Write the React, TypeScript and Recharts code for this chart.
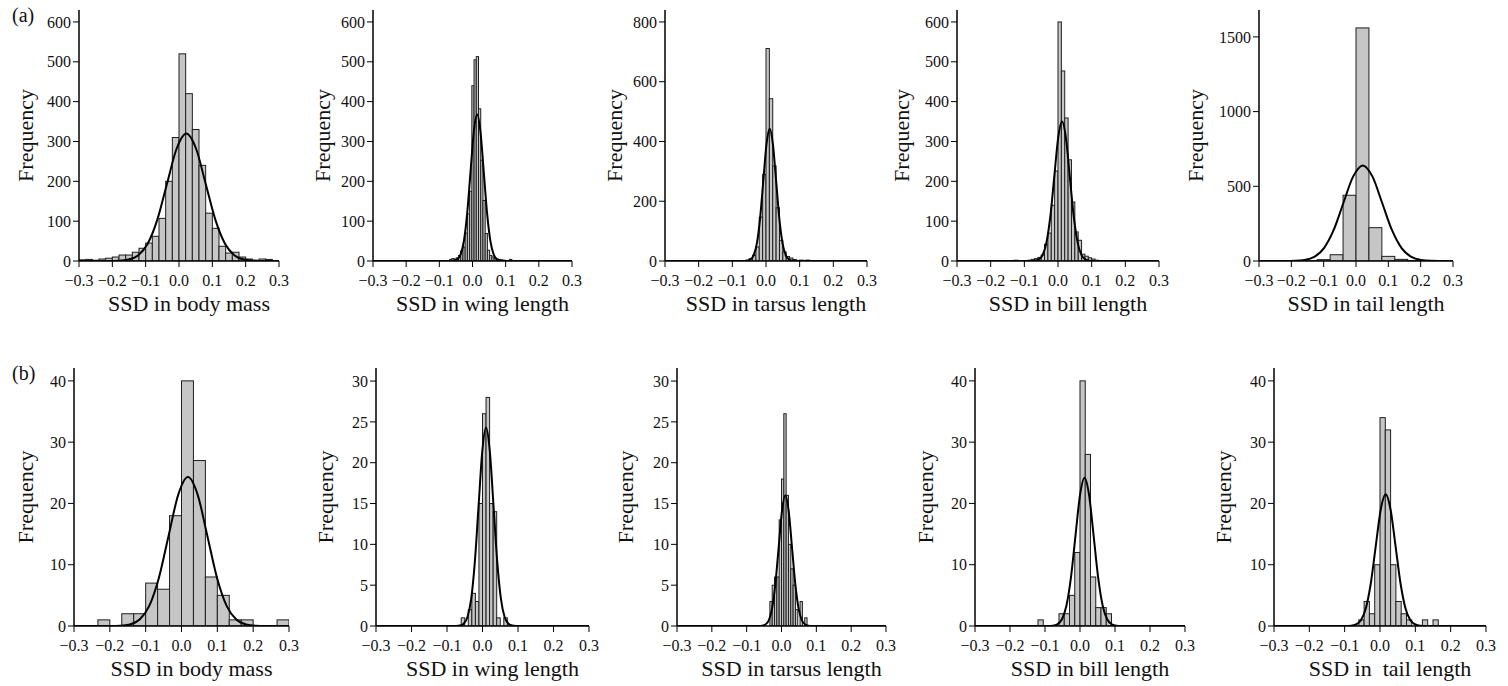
import React from 'react';
import { ComposedChart, Bar, Line, XAxis, YAxis } from 'recharts';

const FONT = "'Liberation Serif', 'Times New Roman', Times, serif";

// ---------- shared axis values ----------
const xTicks = [-0.3, -0.2, -0.1, 0, 0.1, 0.2, 0.3];
const yTicks600 = [0, 100, 200, 300, 400, 500, 600];
const yTicks800 = [0, 200, 400, 600, 800];
const yTicks1500 = [0, 500, 1000, 1500];
const yTicks40 = [0, 10, 20, 30, 40];
const yTicks30 = [0, 5, 10, 15, 20, 25, 30];

// ---------- (a) histograms: first bin edge, bin width, counts ----------
const bodyMassA_start = -0.3;
const bodyMassA_width = 0.02;
const bodyMassA_counts = [3, 4, 2, 5, 7, 10, 15, 15, 22, 32, 45, 62, 107, 200, 310, 520, 420, 330, 240, 120, 82, 37, 20, 22, 10, 5, 2, 5, 4, 1];

const wingA_start = -0.069;
const wingA_width = 0.0067;
const wingA_counts = [4, 6, 5, 8, 14, 25, 35, 70, 118, 175, 440, 505, 513, 382, 253, 152, 69, 27, 14, 10, 7, 5, 4, 3, 2, 0, 0, 4];

const tarsusA_start = -0.06;
const tarsusA_width = 0.01;
const tarsusA_counts = [3, 8, 19, 47, 147, 290, 711, 543, 318, 178, 69, 30, 15, 10, 5, 2, 3, 2, 3];

const billA_start = -0.13;
const billA_width = 0.01;
const billA_counts = [2, 0, 0, 1, 2, 4, 6, 9, 15, 42, 70, 140, 226, 600, 477, 359, 254, 148, 73, 52, 17, 12, 8, 5, 2];

const tailA_start = -0.16;
const tailA_width = 0.04;
const tailA_counts = [2, 9, 42, 440, 1560, 223, 31, 11, 3];

// ---------- (b) histograms ----------
const bodyMassB_start = -0.3;
const bodyMassB_width = 0.033333;
const bodyMassB_counts = [0, 0, 1, 0, 2, 2, 7, 6, 18, 40, 27, 8, 5, 1, 1, 0, 0, 1];

const wingB_start = -0.06;
const wingB_width = 0.01;
const wingB_counts = [1, 0, 2, 4, 3, 15, 26, 28, 15, 14, 1, 0, 1];

const tarsusB_start = -0.033333;
const tarsusB_width = 0.0066667;
const tarsusB_counts = [3, 5, 6, 6, 13, 18, 26, 16, 10, 7, 5, 2, 0, 3, 0, 1];

const billB_start = -0.12;
const billB_width = 0.015;
const billB_counts = [1, 0, 0, 0, 2, 2, 5, 12, 40, 28, 8, 3, 3, 2];

const tailB_start = -0.06;
const tailB_width = 0.015;
const tailB_counts = [1, 4, 2, 10, 34, 32, 10, 4, 2, 1, 0, 0, 1, 0, 1];

// ---------- fitted curves (x, frequency) ----------
const bodyMassA_curveX = [-0.3, -0.21, -0.181, -0.152, -0.123, -0.094, -0.065, -0.036, -0.007, 0.022, 0.051, 0.08, 0.109, 0.138, 0.167, 0.196, 0.225, 0.254, 0.3];
const bodyMassA_curveY = [0, 0.1, 0.7, 3.6, 14.0, 43.3, 103.9, 194.1, 282.4, 320, 282.4, 194.1, 103.9, 43.3, 14.0, 3.6, 0.7, 0.1, 0];

const wingA_curveX = [-0.3, -0.066, -0.056, -0.046, -0.036, -0.026, -0.016, -0.006, 0.004, 0.014, 0.024, 0.034, 0.044, 0.054, 0.064, 0.074, 0.084, 0.094, 0.3];
const wingA_curveY = [0, 0.1, 0.8, 4.1, 16.2, 49.8, 119.5, 223.2, 324.8, 368, 324.8, 223.2, 119.5, 49.8, 16.2, 4.1, 0.8, 0.1, 0];

const tarsusA_curveX = [-0.3, -0.065, -0.0555, -0.046, -0.0365, -0.027, -0.0175, -0.008, 0.0015, 0.011, 0.0205, 0.03, 0.0395, 0.049, 0.0585, 0.068, 0.0775, 0.087, 0.3];
const tarsusA_curveY = [0, 0.1, 1.0, 4.9, 19.4, 59.9, 143.8, 268.7, 390.9, 443, 390.9, 268.7, 143.8, 59.9, 19.4, 4.9, 1.0, 0.1, 0];

const billA_curveX = [-0.3, -0.08, -0.0685, -0.057, -0.0455, -0.034, -0.0225, -0.011, 0.0005, 0.012, 0.0235, 0.035, 0.0465, 0.058, 0.0695, 0.081, 0.0925, 0.104, 0.3];
const billA_curveY = [0, 0.1, 0.8, 3.9, 15.4, 47.4, 113.6, 212.3, 308.9, 350, 308.9, 212.3, 113.6, 47.4, 15.4, 3.9, 0.8, 0.1, 0];

const tailA_curveX = [-0.3, -0.219, -0.189, -0.159, -0.129, -0.099, -0.069, -0.039, -0.009, 0.021, 0.051, 0.081, 0.111, 0.141, 0.171, 0.201, 0.231, 0.261, 0.3];
const tailA_curveY = [0, 0.2, 1.4, 7.1, 28.1, 86.6, 207.8, 388.2, 564.8, 640, 564.8, 388.2, 207.8, 86.6, 28.1, 7.1, 1.4, 0.2, 0];

const bodyMassB_curveX = [-0.3, -0.198, -0.171, -0.144, -0.117, -0.09, -0.063, -0.036, -0.009, 0.018, 0.045, 0.072, 0.099, 0.126, 0.153, 0.18, 0.207, 0.234, 0.3];
const bodyMassB_curveY = [0, 0.01, 0.05, 0.27, 1.07, 3.29, 7.89, 14.74, 21.44, 24.3, 21.44, 14.74, 7.89, 3.29, 1.07, 0.27, 0.05, 0.01, 0];

const wingB_curveX = [-0.3, -0.074, -0.0635, -0.053, -0.0425, -0.032, -0.0215, -0.011, -0.0005, 0.01, 0.0205, 0.031, 0.0415, 0.052, 0.0625, 0.073, 0.0835, 0.094, 0.3];
const wingB_curveY = [0, 0.01, 0.05, 0.27, 1.07, 3.29, 7.89, 14.74, 21.44, 24.3, 21.44, 14.74, 7.89, 3.29, 1.07, 0.27, 0.05, 0.01, 0];

const tarsusB_curveX = [-0.3, -0.065, -0.0555, -0.046, -0.0365, -0.027, -0.0175, -0.008, 0.0015, 0.011, 0.0205, 0.03, 0.0395, 0.049, 0.0585, 0.068, 0.0775, 0.087, 0.3];
const tarsusB_curveY = [0, 0.01, 0.04, 0.18, 0.7, 2.16, 5.2, 9.7, 14.12, 16, 14.12, 9.7, 5.2, 2.16, 0.7, 0.18, 0.04, 0.01, 0];

const billB_curveX = [-0.3, -0.091, -0.078, -0.065, -0.052, -0.039, -0.026, -0.013, 0.0, 0.013, 0.026, 0.039, 0.052, 0.065, 0.078, 0.091, 0.104, 0.117, 0.3];
const billB_curveY = [0, 0.01, 0.05, 0.27, 1.06, 3.27, 7.86, 14.68, 21.36, 24.2, 21.36, 14.68, 7.86, 3.27, 1.06, 0.27, 0.05, 0.01, 0];

const tailB_curveX = [-0.3, -0.096, -0.082, -0.068, -0.054, -0.04, -0.026, -0.012, 0.002, 0.016, 0.03, 0.044, 0.058, 0.072, 0.086, 0.1, 0.114, 0.128, 0.3];
const tailB_curveY = [0, 0.01, 0.05, 0.24, 0.94, 2.91, 6.98, 13.04, 18.97, 21.5, 18.97, 13.04, 6.98, 2.91, 0.94, 0.24, 0.05, 0.01, 0];

// ---------- layout ----------
type PanelDef = {
  key: string;
  plotLeft: number;
  plotTop: number;
  plotWidth: number;
  plotHeight: number;
  yMax: number;
  yTicks: number[];
  xLabel: string;
  freqOffset: number;
  binStart: number;
  binWidth: number;
  counts: number[];
  curveX: number[];
  curveY: number[];
};

const TOP_Y = 10;
const TOP_H = 251;
const BOT_Y = 368;
const BOT_H = 258;

const panels: PanelDef[] = [
  { key: 'a1', plotLeft: 79, plotTop: TOP_Y, plotWidth: 200, plotHeight: TOP_H, yMax: 630, yTicks: yTicks600, xLabel: 'SSD in body mass', freqOffset: 54, binStart: bodyMassA_start, binWidth: bodyMassA_width, counts: bodyMassA_counts, curveX: bodyMassA_curveX, curveY: bodyMassA_curveY },
  { key: 'a2', plotLeft: 373, plotTop: TOP_Y, plotWidth: 199, plotHeight: TOP_H, yMax: 630, yTicks: yTicks600, xLabel: 'SSD in wing length', freqOffset: 51, binStart: wingA_start, binWidth: wingA_width, counts: wingA_counts, curveX: wingA_curveX, curveY: wingA_curveY },
  { key: 'a3', plotLeft: 665, plotTop: TOP_Y, plotWidth: 202, plotHeight: TOP_H, yMax: 840, yTicks: yTicks800, xLabel: 'SSD in tarsus length', freqOffset: 51, binStart: tarsusA_start, binWidth: tarsusA_width, counts: tarsusA_counts, curveX: tarsusA_curveX, curveY: tarsusA_curveY },
  { key: 'a4', plotLeft: 957, plotTop: TOP_Y, plotWidth: 202, plotHeight: TOP_H, yMax: 630, yTicks: yTicks600, xLabel: 'SSD in bill length', freqOffset: 56, binStart: billA_start, binWidth: billA_width, counts: billA_counts, curveX: billA_curveX, curveY: billA_curveY },
  { key: 'a5', plotLeft: 1259, plotTop: TOP_Y, plotWidth: 194, plotHeight: TOP_H, yMax: 1680, yTicks: yTicks1500, xLabel: 'SSD in tail length', freqOffset: 64, binStart: tailA_start, binWidth: tailA_width, counts: tailA_counts, curveX: tailA_curveX, curveY: tailA_curveY },
  { key: 'b1', plotLeft: 74, plotTop: BOT_Y, plotWidth: 215, plotHeight: BOT_H, yMax: 42.1, yTicks: yTicks40, xLabel: 'SSD in body mass', freqOffset: 49, binStart: bodyMassB_start, binWidth: bodyMassB_width, counts: bodyMassB_counts, curveX: bodyMassB_curveX, curveY: bodyMassB_curveY },
  { key: 'b2', plotLeft: 376, plotTop: BOT_Y, plotWidth: 213, plotHeight: BOT_H, yMax: 31.6, yTicks: yTicks30, xLabel: 'SSD in wing length', freqOffset: 51, binStart: wingB_start, binWidth: wingB_width, counts: wingB_counts, curveX: wingB_curveX, curveY: wingB_curveY },
  { key: 'b3', plotLeft: 677, plotTop: BOT_Y, plotWidth: 209, plotHeight: BOT_H, yMax: 31.6, yTicks: yTicks30, xLabel: 'SSD in tarsus length', freqOffset: 52, binStart: tarsusB_start, binWidth: tarsusB_width, counts: tarsusB_counts, curveX: tarsusB_curveX, curveY: tarsusB_curveY },
  { key: 'b4', plotLeft: 975, plotTop: BOT_Y, plotWidth: 210, plotHeight: BOT_H, yMax: 42.1, yTicks: yTicks40, xLabel: 'SSD in bill length', freqOffset: 50, binStart: billB_start, binWidth: billB_width, counts: billB_counts, curveX: billB_curveX, curveY: billB_curveY },
  { key: 'b5', plotLeft: 1274, plotTop: BOT_Y, plotWidth: 212, plotHeight: BOT_H, yMax: 42.1, yTicks: yTicks40, xLabel: 'SSD in  tail length', freqOffset: 51, binStart: tailB_start, binWidth: tailB_width, counts: tailB_counts, curveX: tailB_curveX, curveY: tailB_curveY },
];

type Row = { x: number; count?: number; curve?: number };

function buildRows(p: PanelDef): Row[] {
  const rows: Row[] = [];
  p.counts.forEach((c, i) => rows.push({ x: p.binStart + p.binWidth * (i + 0.5), count: c }));
  p.curveX.forEach((x, i) => rows.push({ x, curve: p.curveY[i] }));
  rows.sort((a, b) => a.x - b.x);
  return rows;
}

const fmtX = (v: number) => {
  const s = Math.abs(v).toFixed(1);
  return v < -1e-9 ? '\u2212' + s : s;
};

const makeShape = (binPx: number) => (props: any) => {
  const { x, y, width, height, payload } = props;
  if (!payload || payload.count == null || payload.count <= 0 || !isFinite(y) || !isFinite(height)) return <g />;
  const cx = x + width / 2;
  return (
    <rect
      x={cx - binPx / 2}
      y={y}
      width={binPx}
      height={Math.max(0, height)}
      fill="#c6c6c6"
      stroke="#1e1e1e"
      strokeWidth={1}
    />
  );
};

const YW = 80;
const MT = 10;
const MR = 12;
const XH = 62;

const textStyle: React.CSSProperties = { fontFamily: FONT };
const tickProps = { fontSize: 16, fill: '#111', fontFamily: FONT, style: textStyle };

function Panel({ p }: { p: PanelDef }) {
  const data = buildRows(p);
  const binPx = (p.plotWidth * p.binWidth) / 0.6;
  const xLabelContent = (lp: any) => {
    const vb = lp.viewBox || {};
    return (
      <text
        x={vb.x + vb.width / 2 + 10}
        y={vb.y + 50}
        textAnchor="middle"
        fontSize={22}
        fontFamily={FONT}
        fill="#111"
        style={{ whiteSpace: 'pre', fontFamily: FONT }}
      >
        {p.xLabel}
      </text>
    );
  };
  const yLabelContent = (lp: any) => {
    const vb = lp.viewBox || {};
    const cx = vb.x + vb.width - p.freqOffset;
    const cy = vb.y + vb.height / 2;
    return (
      <text
        x={cx}
        y={cy}
        transform={`rotate(-90 ${cx} ${cy})`}
        textAnchor="middle"
        dominantBaseline="central"
        fontSize={22}
        fontFamily={FONT}
        fill="#111"
        style={textStyle}
      >
        Frequency
      </text>
    );
  };
  return (
    <div style={{ position: 'absolute', left: p.plotLeft - YW, top: p.plotTop - MT, fontFamily: FONT }}>
      <ComposedChart
        width={p.plotWidth + YW + MR}
        height={p.plotHeight + MT + XH}
        data={data}
        margin={{ top: MT, right: MR, bottom: 0, left: 0 }}
        style={textStyle}
      >
        <XAxis
          type="number"
          dataKey="x"
          domain={[-0.3, 0.3]}
          ticks={xTicks}
          allowDataOverflow
          interval={0}
          tickFormatter={fmtX}
          height={XH}
          tickSize={6}
          tickMargin={8}
          axisLine={{ stroke: '#000', strokeWidth: 1.5 }}
          tickLine={{ stroke: '#000', strokeWidth: 1 }}
          tick={tickProps}
          label={{ content: xLabelContent }}
        />
        <YAxis
          type="number"
          domain={[0, p.yMax]}
          ticks={p.yTicks}
          allowDataOverflow
          interval={0}
          width={YW}
          tickSize={6}
          tickMargin={2}
          axisLine={{ stroke: '#000', strokeWidth: 1.5 }}
          tickLine={{ stroke: '#000', strokeWidth: 1 }}
          tick={tickProps}
          label={{ content: yLabelContent }}
        />
        <Bar dataKey="count" shape={makeShape(binPx)} isAnimationActive={false} />
        <Line
          dataKey="curve"
          type="monotone"
          stroke="#000"
          strokeWidth={2}
          dot={false}
          activeDot={false}
          connectNulls
          isAnimationActive={false}
        />
      </ComposedChart>
    </div>
  );
}

const letterStyle: React.CSSProperties = {
  position: 'absolute',
  left: 12,
  fontFamily: FONT,
  fontSize: 20,
  lineHeight: '20px',
  color: '#111',
};

export default function App() {
  return (
    <div
      style={{
        position: 'absolute',
        left: 0,
        top: 0,
        width: 1508,
        height: 686,
        background: '#fff',
        overflow: 'hidden',
        fontFamily: FONT,
      }}
    >
      <div style={{ ...letterStyle, top: 5 }}>(a)</div>
      <div style={{ ...letterStyle, top: 363 }}>(b)</div>
      {panels.map((p) => (
        <Panel key={p.key} p={p} />
      ))}
    </div>
  );
}
